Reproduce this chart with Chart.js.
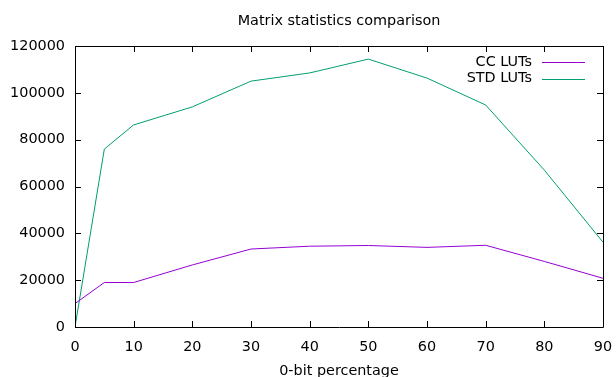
<!DOCTYPE html>
<html>
<head>
<meta charset="utf-8">
<script src="https://cdn.jsdelivr.net/npm/chart.js@4/dist/chart.umd.min.js"></script>
<style>
  html, body { margin: 0; padding: 0; background: #fff; }
  #wrap { width: 616px; height: 377px; }
</style>
</head>
<body>
<div id="wrap"><canvas id="diagram" width="616" height="377"></canvas></div>
<script>
// values
var percentages = [0, 5, 10, 20, 30, 40, 50, 60, 70, 80, 90];
var ccLuts  = [10000, 19000, 19000, 26500, 33300, 34500, 34800, 34000, 34900, 28000, 20800];
var stdLuts = [0, 76000, 86300, 94000, 105000, 108500, 114400, 106300, 94800, 67000, 36200];
var seriesNames = ['CC LUTs', 'STD LUTs'];
var colors = ['#9400d3', '#009e73'];

var FONT = '"DejaVu Sans", sans-serif';
var FSIZE = 14.4;

function toPoints(vals){
  var pts = [];
  for (var i = 0; i < percentages.length; i++) {
    pts.push({x: percentages[i], y: vals[i]});
  }
  return pts;
}

// gnuplot style: box border, inward ticks on all sides, title, inside legend
var gnuplotLook = {
  id: 'gnuplotLook',
  afterDraw: function(chart){
    var ctx = chart.ctx;
    var a = chart.chartArea;
    var xs = chart.scales.x, ys = chart.scales.y;
    ctx.save();
    ctx.strokeStyle = '#000';
    ctx.lineWidth = 1;
    ctx.beginPath();
    ctx.rect(Math.round(a.left) + 0.5, Math.round(a.top) + 0.5,
             Math.round(a.right - a.left), Math.round(a.bottom - a.top));
    ctx.stroke();

    var len = 6;
    ctx.beginPath();
    xs.ticks.forEach(function(t){
      var px = Math.round(xs.getPixelForValue(t.value)) + 0.5;
      ctx.moveTo(px, a.bottom); ctx.lineTo(px, a.bottom - len);
      ctx.moveTo(px, a.top); ctx.lineTo(px, a.top + len);
    });
    ys.ticks.forEach(function(t){
      var py = Math.round(ys.getPixelForValue(t.value)) + 0.5;
      ctx.moveTo(a.left, py); ctx.lineTo(a.left + len, py);
      ctx.moveTo(a.right, py); ctx.lineTo(a.right - len, py);
    });
    ctx.stroke();

    ctx.fillStyle = '#000';
    ctx.font = FSIZE + 'px ' + FONT;
    ctx.textAlign = 'center';
    ctx.textBaseline = 'middle';
    ctx.fillText('Matrix statistics comparison', 339, 21);
    ctx.fillText('0-bit percentage', 339, 371);

    // legend
    ctx.textAlign = 'right';
    for (var i = 0; i < seriesNames.length; i++) {
      var ly = 62 + i * 16.5;
      ctx.fillText(seriesNames[i], 532, ly);
      ctx.strokeStyle = colors[i];
      ctx.beginPath();
      ctx.moveTo(542, Math.round(ly) + 0.5);
      ctx.lineTo(585, Math.round(ly) + 0.5);
      ctx.stroke();
    }
    ctx.restore();
  }
};

var chart = new Chart(document.getElementById('diagram').getContext('2d'), {
  type: 'line',
  data: {
    datasets: [
      {label: seriesNames[0], data: toPoints(ccLuts), borderColor: colors[0], borderWidth: 1, pointRadius: 0, tension: 0, fill: false},
      {label: seriesNames[1], data: toPoints(stdLuts), borderColor: colors[1], borderWidth: 1, pointRadius: 0, tension: 0, fill: false}
    ]
  },
  options: {
    responsive: false,
    animation: false,
    layout: { padding: {top: 46, right: 13, left: 0, bottom: 0} },
    plugins: {
      legend: { display: false },
      title: { display: false },
      tooltip: { enabled: false }
    },
    scales: {
      x: {
        type: 'linear',
        min: 0, max: 90,
        grid: { display: false, drawTicks: false },
        border: { display: false },
        ticks: { stepSize: 10, color: '#000', padding: 12, maxRotation: 0, font: { family: FONT, size: FSIZE } },
        afterFit: function(s){ s.height = 50; s.paddingRight = 0; s.paddingLeft = 0; }
      },
      y: {
        min: 0, max: 120000,
        grid: { display: false, drawTicks: false },
        border: { display: false },
        ticks: { stepSize: 20000, color: '#000', padding: 10, font: { family: FONT, size: FSIZE },
                 callback: function(v){ return String(v); } },
        afterFit: function(s){ s.width = 75; s.paddingTop = 0; s.paddingBottom = 0; }
      }
    }
  },
  plugins: [gnuplotLook]
});
</script>
</body>
</html>
